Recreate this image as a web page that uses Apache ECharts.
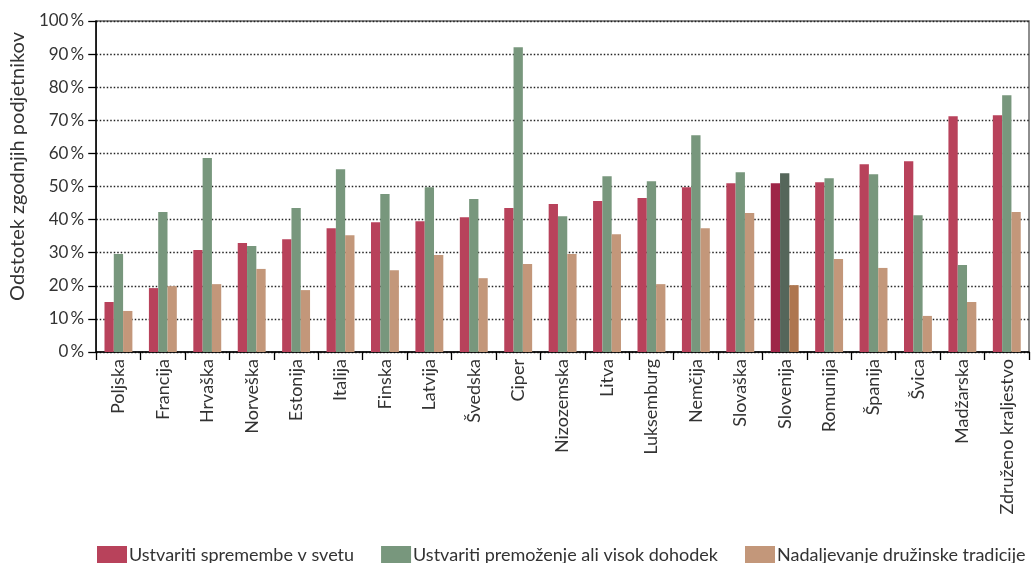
<!DOCTYPE html>
<html>
<head>
<meta charset="utf-8">
<script src="https://cdn.jsdelivr.net/npm/echarts@6/dist/echarts.min.js"></script>
<style>
  html, body { margin: 0; padding: 0; background: #fff; }
  #chart { width: 1032px; height: 563px; }
</style>
</head>
<body>
<div id="chart"></div>
<script>
// Countries along the category axis
const countries = ['Poljska', 'Francija', 'Hrvaška', 'Norveška', 'Estonija', 'Italija', 'Finska',
  'Latvija', 'Švedska', 'Ciper', 'Nizozemska', 'Litva', 'Luksemburg', 'Nemčija', 'Slovaška',
  'Slovenija', 'Romunija', 'Španija', 'Švica', 'Madžarska', 'Združeno kraljestvo'];

// Share of early-stage entrepreneurs per motive (%)
const changeWorld = [15.1, 19.3, 30.8, 32.9, 34.1, 37.4, 39.2, 39.5, 40.7, 43.5, 44.7, 45.6, 46.5,
  49.8, 51.0, 51.0, 51.3, 56.7, 57.6, 71.2, 71.5];
const wealthIncome = [29.6, 42.3, 58.6, 32.0, 43.5, 55.2, 47.7, 49.8, 46.2, 92.1, 41.0, 53.1, 51.6,
  65.5, 54.3, 54.0, 52.5, 53.7, 41.3, 26.3, 77.6];
const familyTradition = [12.4, 19.9, 20.5, 25.1, 18.7, 35.3, 24.7, 29.3, 22.3, 26.6, 29.6, 35.6, 20.5,
  37.4, 42.0, 20.2, 28.1, 25.4, 10.9, 15.1, 42.3];

const seriesNames = ['Ustvariti spremembe v svetu', 'Ustvariti premoženje ali visok dohodek',
  'Nadaljevanje družinske tradicije'];
const yTicks = [0, 10, 20, 30, 40, 50, 60, 70, 80, 90, 100];

const baseColors = ['#B8425B', '#78977D', '#C3977A'];
const highlightColors = ['#9E2547', '#55665A', '#AE764F'];
const highlightCountry = 'Slovenija';

const FONT = 'Lato, "Open Sans", sans-serif';

function buildData(values, si) {
  return values.map((v, i) => countries[i] === highlightCountry
    ? { value: v, itemStyle: { color: highlightColors[si] } }
    : v);
}

const chart = echarts.init(document.getElementById('chart'), null, { renderer: 'canvas' });

chart.setOption({
  animation: false,
  textStyle: { fontFamily: FONT },
  grid: {
    left: 95, right: 3, top: 21, bottom: 211,
    show: true, borderColor: '#6a6a6a', borderWidth: 1.5, backgroundColor: 'transparent'
  },
  legend: {
    bottom: -2, left: 97, width: 935, padding: 0,
    itemWidth: 30, itemHeight: 19, itemGap: 27,
    icon: 'rect',
    textStyle: { fontFamily: FONT, fontSize: 18, color: '#333', padding: [0, 0, 0, -3] },
    data: seriesNames
  },
  xAxis: {
    type: 'category',
    data: countries,
    boundaryGap: true,
    axisLine: { lineStyle: { color: '#000', width: 1.5 } },
    axisTick: { show: true, length: 8, interval: 0, lineStyle: { color: '#000', width: 1.3 } },
    axisLabel: {
      interval: 0, rotate: 90, margin: 7,
      fontFamily: FONT, fontSize: 18, color: '#333'
    }
  },
  yAxis: {
    type: 'value',
    min: yTicks[0], max: yTicks[yTicks.length - 1], interval: 10,
    name: 'Odstotek zgodnjih podjetnikov',
    nameLocation: 'middle',
    nameGap: 68,
    nameTextStyle: { fontFamily: FONT, fontSize: 20, color: '#333', padding: [0, 0, 0, 40] },
    axisLine: { show: true, lineStyle: { color: '#000', width: 1.5 } },
    axisTick: { show: true, length: 8, lineStyle: { color: '#000', width: 1.3 } },
    axisLabel: {
      margin: 12, fontFamily: FONT, fontSize: 17, color: '#333',
      formatter: v => v + '\u2009%'
    },
    splitLine: { show: true, lineStyle: { color: '#222', type: [1.5, 2], width: 1.4 } }
  },
  series: [changeWorld, wealthIncome, familyTradition].map((vals, si) => ({
    name: seriesNames[si],
    type: 'bar',
    data: buildData(vals, si),
    itemStyle: { color: baseColors[si] },
    barWidth: 9.3,
    barGap: '0%',
    barCategoryGap: '37%'
  }))
});
</script>
</body>
</html>
